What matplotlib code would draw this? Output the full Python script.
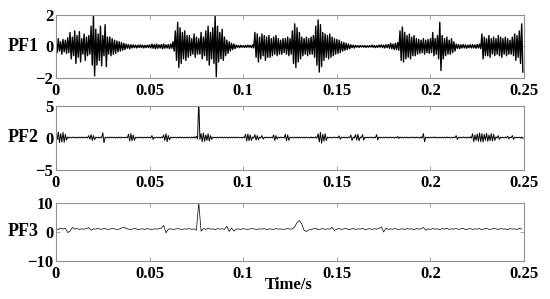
import numpy as np
import matplotlib
matplotlib.use("Agg")
import matplotlib.pyplot as plt

# ─── data (step 0.00125 s, 200 samples each) ──────────────────────────────
DT = 0.00125

# PF1: upper / lower excursion of each sample step
pf1_hi = [
    0.35, 0.5, 0.3, 0.45, 0.4, 0.55, 0.9, 0.6, 1.0, 0.7,
    0.95, 0.5, 0.8, 0.6, 0.7, 1.3, 2.0, 1.1, 0.8, 1.3,
    0.7, 1.4, 0.6, 0.6, 0.5, 0.4, 0.35, 0.3, 0.25, 0.2,
    0.15, 0.12, 0.1, 0.1, 0.08, 0.08, 0.1, 0.08, 0.07, 0.08,
    0.1, 0.15, 0.12, 0.15, 0.1, 0.12, 0.15, 0.1, 0.12, 0.15,
    0.3, 1.0, 1.55, 1.2, 0.9, 1.0, 0.7, 0.7, 0.5, 0.8,
    0.6, 0.5, 0.9, 0.6, 1.0, 1.3, 0.9, 1.2, 2.0, 1.3,
    0.9, 1.1, 0.6, 0.4, 0.3, 0.2, 0.15, 0.08, 0.06, 0.07,
    0.05, 0.06, 0.08, 0.06, 0.1, 0.9, 0.8, 0.6, 0.8, 0.7,
    0.6, 0.7, 0.5, 0.6, 0.7, 0.5, 0.4, 0.5, 0.5, 0.6,
    0.5, 1.0, 1.45, 1.2, 0.9, 0.6, 0.5, 0.6, 0.5, 0.6,
    0.7, 1.3, 1.7, 1.4, 0.9, 0.8, 0.7, 0.8, 0.6, 0.5,
    0.45, 0.4, 0.3, 0.25, 0.2, 0.15, 0.1, 0.08, 0.06, 0.05,
    0.05, 0.06, 0.05, 0.04, 0.05, 0.08, 0.06, 0.05, 0.08, 0.1,
    0.08, 0.1, 0.12, 0.2, 0.15, 0.2, 0.25, 1.0, 1.25, 0.9,
    0.7, 0.8, 0.6, 0.7, 0.5, 0.45, 0.4, 0.5, 0.4, 0.45,
    0.5, 0.9, 0.5, 0.7, 1.55, 0.7, 0.5, 0.6, 0.4, 0.5,
    0.3, 0.15, 0.12, 0.1, 0.12, 0.1, 0.08, 0.1, 0.12, 0.1,
    0.12, 0.15, 0.8, 0.6, 0.5, 0.7, 0.5, 0.6, 0.5, 0.7,
    0.6, 0.5, 0.6, 0.5, 0.4, 0.6, 0.8, 0.7, 1.0, 1.45,
]
pf1_lo = [
    -0.4, -0.3, -0.5, -0.35, -0.45, -0.4, -0.8, -0.6, -1.1, -0.7,
    -1.0, -0.5, -0.9, -0.6, -0.5, -1.2, -1.9, -1.2, -0.9, -1.25,
    -0.6, -1.3, -0.5, -0.6, -0.5, -0.45, -0.35, -0.3, -0.25, -0.2,
    -0.12, -0.15, -0.1, -0.08, -0.1, -0.07, -0.08, -0.1, -0.08, -0.07,
    -0.1, -0.12, -0.15, -0.12, -0.1, -0.15, -0.12, -0.1, -0.15, -0.12,
    -0.3, -0.9, -1.35, -1.1, -0.8, -0.9, -0.7, -0.6, -0.5, -0.7,
    -0.5, -0.5, -0.8, -0.6, -0.9, -1.2, -0.8, -1.1, -1.95, -1.0,
    -0.8, -0.9, -0.6, -0.45, -0.3, -0.2, -0.15, -0.06, -0.08, -0.05,
    -0.07, -0.06, -0.05, -0.08, -0.1, -0.7, -1.0, -0.8, -0.6, -0.9,
    -0.7, -0.7, -0.6, -0.5, -0.6, -0.5, -0.5, -0.4, -0.5, -0.6,
    -0.5, -1.1, -1.35, -1.0, -0.8, -0.6, -0.5, -0.6, -0.5, -0.5,
    -0.7, -1.2, -1.65, -1.3, -0.9, -0.7, -0.8, -0.7, -0.6, -0.5,
    -0.45, -0.4, -0.3, -0.25, -0.2, -0.15, -0.08, -0.1, -0.05, -0.06,
    -0.04, -0.05, -0.06, -0.05, -0.04, -0.06, -0.08, -0.06, -0.05, -0.08,
    -0.1, -0.08, -0.12, -0.15, -0.2, -0.2, -0.25, -0.9, -1.0, -0.8,
    -0.7, -0.8, -0.6, -0.6, -0.5, -0.45, -0.4, -0.5, -0.4, -0.45,
    -0.4, -0.6, -0.5, -0.8, -1.55, -0.8, -0.6, -0.5, -0.5, -0.4,
    -0.3, -0.12, -0.15, -0.1, -0.1, -0.12, -0.08, -0.1, -0.1, -0.12,
    -0.1, -0.15, -0.8, -0.6, -0.6, -0.7, -0.5, -0.6, -0.5, -0.6,
    -0.7, -0.5, -0.6, -0.5, -0.5, -0.6, -0.9, -0.7, -1.1, -1.65,
]

# PF2: mostly flat with short bursts and one tall spike
pf2_hi = [
    0.3, 0.85, 0.6, 0.8, 0.5, 0.08, 0.05, 0.07, 0.06, 0.05,
    0.06, 0.08, 0.05, 0.07, 0.3, 0.45, 0.3, 0.06, 0.05, 0.07,
    0.75, 0.06, 0.05, 0.08, 0.06, 0.05, 0.07, 0.06, 0.08, 0.05,
    0.07, 0.5, 0.6, 0.4, 0.06, 0.05, 0.07, 0.06, 0.05, 0.08,
    0.06, 0.3, 0.05, 0.07, 0.06, 0.08, 0.4, 0.6, 0.3, 0.05,
    0.07, 0.06, 0.05, 0.08, 0.06, 0.05, 0.07, 0.06, 0.08, 0.1,
    0.2, 6.0, 0.6, 0.7, 0.4, 0.6, 0.3, 0.06, 0.05, 0.07,
    0.06, 0.08, 0.05, 0.07, 0.06, 0.05, 0.08, 0.06, 0.07, 0.05,
    0.08, 0.5, 0.55, 0.4, 0.07, 0.45, 0.3, 0.06, 0.3, 0.05,
    0.07, 0.06, 0.05, 0.4, 0.3, 0.06, 0.08, 0.05, 0.5, 0.4,
    0.06, 0.05, 0.07, 0.06, 0.08, 0.05, 0.06, 0.07, 0.05, 0.08,
    0.06, 0.1, 0.6, 0.8, 0.5, 0.6, 0.07, 0.05, 0.06, 0.08,
    0.05, 0.25, 0.06, 0.07, 0.05, 0.08, 0.4, 0.06, 0.45, 0.5,
    0.07, 0.45, 0.06, 0.05, 0.08, 0.06, 0.05, 0.45, 0.07, 0.06,
    0.05, 0.08, 0.06, 0.07, 0.05, 0.06, 0.15, 0.08, 0.05, 0.07,
    0.06, 0.05, 0.08, 0.06, 0.07, 0.05, 0.1, 0.6, 0.06, 0.05,
    0.07, 0.06, 0.08, 0.05, 0.06, 0.07, 0.05, 0.08, 0.06, 0.05,
    0.07, 0.3, 0.06, 0.05, 0.08, 0.06, 0.07, 0.1, 0.6, 0.4,
    0.55, 0.7, 0.6, 0.5, 0.65, 0.4, 0.6, 0.5, 0.1, 0.3,
    0.06, 0.05, 0.08, 0.2, 0.06, 0.3, 0.07, 0.05, 0.06, 0.08,
]
pf2_lo = [
    -0.3, -0.8, -0.7, -0.75, -0.4, -0.06, -0.07, -0.05, -0.08, -0.06,
    -0.05, -0.07, -0.06, -0.08, -0.25, -0.45, -0.35, -0.05, -0.07, -0.06,
    -0.8, -0.05, -0.07, -0.06, -0.05, -0.08, -0.06, -0.07, -0.05, -0.06,
    -0.06, -0.55, -0.5, -0.45, -0.05, -0.07, -0.06, -0.08, -0.06, -0.05,
    -0.07, -0.3, -0.06, -0.05, -0.08, -0.06, -0.45, -0.65, -0.35, -0.06,
    -0.05, -0.07, -0.06, -0.05, -0.08, -0.06, -0.05, -0.07, -0.06, -0.1,
    -0.2, -0.3, -0.65, -0.6, -0.45, -0.55, -0.3, -0.05, -0.07, -0.06,
    -0.05, -0.07, -0.06, -0.08, -0.05, -0.06, -0.07, -0.05, -0.06, -0.08,
    -0.06, -0.55, -0.5, -0.45, -0.06, -0.4, -0.35, -0.05, -0.25, -0.07,
    -0.06, -0.05, -0.07, -0.45, -0.25, -0.05, -0.06, -0.07, -0.5, -0.45,
    -0.05, -0.07, -0.06, -0.08, -0.05, -0.06, -0.07, -0.05, -0.08, -0.06,
    -0.07, -0.1, -0.7, -0.9, -0.55, -0.5, -0.06, -0.07, -0.05, -0.06,
    -0.07, -0.25, -0.05, -0.06, -0.08, -0.05, -0.45, -0.07, -0.4, -0.5,
    -0.06, -0.4, -0.07, -0.06, -0.05, -0.08, -0.06, -0.4, -0.05, -0.07,
    -0.06, -0.05, -0.07, -0.06, -0.08, -0.05, -0.15, -0.06, -0.07, -0.05,
    -0.08, -0.06, -0.05, -0.07, -0.06, -0.08, -0.1, -0.65, -0.05, -0.07,
    -0.06, -0.05, -0.07, -0.08, -0.05, -0.06, -0.07, -0.05, -0.08, -0.06,
    -0.05, -0.3, -0.07, -0.06, -0.05, -0.08, -0.06, -0.1, -0.65, -0.45,
    -0.6, -0.65, -0.7, -0.45, -0.6, -0.5, -0.55, -0.45, -0.1, -0.3,
    -0.05, -0.07, -0.06, -0.2, -0.05, -0.3, -0.06, -0.07, -0.05, -0.06,
]

# PF3: slow wiggly line, spike near 0.076 s and a bump near 0.13 s
pf3 = [
    1.2, 0.9, 1.4, 1.0, 1.3, -0.2, 0.3, 1.6, 1.0, 1.2,
    0.9, 1.1, 1.0, 1.2, 1.5, 0.6, 1.1, 1.0, 1.3, 0.9,
    1.1, 1.2, 0.9, 1.0, 1.2, 1.1, 0.9, 1.0, 1.4, 1.7,
    1.2, 1.0, 0.9, 1.1, 1.2, 0.8, 1.0, 1.1, 0.9, 1.2,
    1.0, 0.9, 1.1, 1.0, 1.2, 1.3, 2.3, -0.3, 1.0, 1.1,
    0.9, 1.0, 1.2, 1.0, 0.9, 1.1, 1.0, 1.2, 0.9, 1.1,
    0.6, 10.2, 0.3, 1.2, 0.9, 1.3, 1.0, 1.1, 0.8, 1.2,
    1.0, 1.1, 0.9, 2.0, 0.2, 1.4, 0.3, 1.0, 1.1, 0.9,
    1.2, 1.0, 0.9, 1.1, 1.2, 1.0, 0.9, 1.1, 1.0, 1.2,
    0.8, 1.1, 1.0, 0.9, 1.2, 1.0, 1.1, 0.9, 1.0, 1.2,
    1.0, 1.1, 1.8, 3.3, 4.0, 2.8, 0.6, 0.2, 0.7, 0.9,
    1.1, 1.3, 0.8, 1.0, 1.2, 0.9, 1.1, 1.0, 1.6, 0.5,
    1.0, 1.2, 0.9, 1.1, 1.3, 0.8, 1.0, 1.2, 0.9, 1.1,
    1.0, 1.3, 0.8, 1.0, 1.2, 0.9, 1.1, 1.0, 1.2, 1.8,
    0.0, 1.3, 0.9, 1.1, 1.0, 1.2, 0.9, 1.0, 1.1, 0.9,
    1.2, 1.0, 1.1, 0.8, 1.2, 1.0, 1.1, 1.6, 0.6, 1.1,
    0.9, 1.2, 1.0, 1.1, 0.8, 1.2, 1.0, 1.3, 0.9, 1.1,
    1.0, 1.2, 0.9, 1.1, 1.3, 0.8, 1.0, 1.2, 0.9, 1.1,
    1.0, 1.2, 0.8, 1.1, 1.3, 0.9, 1.0, 1.2, 1.1, 0.9,
    1.2, 1.0, 1.1, 0.8, 1.2, 1.0, 1.1, 0.9, 1.3, 1.0,
]

xticks = [0, 0.05, 0.1, 0.15, 0.2, 0.25]
xtick_labels = ["0", "0.05", "0.1", "0.15", "0.2", "0.25"]
panels = ["PF1", "PF2", "PF3"]
ylims = [2, 5, 10]
# ──────────────────────────────────────────────────────────────────────────


def interleave(hi, lo):
    # upper excursions on the step, lower ones half a step later
    n = min(len(hi), len(lo))
    t = np.empty(2 * n)
    y = np.empty(2 * n)
    t[0::2] = np.arange(n) * DT
    t[1::2] = np.arange(n) * DT + DT / 2
    y[0::2] = hi[:n]
    y[1::2] = lo[:n]
    return t, y


plt.rcParams["font.family"] = ["Liberation Serif", "DejaVu Serif"]
plt.rcParams["font.weight"] = "bold"
plt.rcParams["axes.unicode_minus"] = True

fig = plt.figure(figsize=(5.5, 2.99), dpi=100)
boxes = [
    [0.1018, 0.7408, 0.851, 0.208],
    [0.1018, 0.4331, 0.851, 0.214],
    [0.1018, 0.1281, 0.851, 0.192],
]
widths = [1.0, 0.7, 0.5]

t1, y1 = interleave(pf1_hi, pf1_lo)
t2, y2 = interleave(pf2_hi, pf2_lo)
t3 = np.arange(len(pf3)) * DT
series = [(t1, y1), (t2, y2), (t3, np.array(pf3))]

for box, name, lim, lw, (t, y) in zip(boxes, panels, ylims, widths, series):
    ax = fig.add_axes(box)
    ax.plot(t, y, color="black", lw=lw)
    ax.set_xlim(0, 0.25)
    ax.set_ylim(-lim, lim)
    ax.set_xticks(xticks)
    ax.set_xticklabels(xtick_labels)
    ax.set_yticks([-lim, 0, lim])
    ax.tick_params(direction="in", top=True, right=True, length=3,
                   width=0.6, color="#909090", labelsize=12)
    ax.tick_params(axis="x", pad=4)
    ax.tick_params(axis="y", pad=2)
    for s in ax.spines.values():
        s.set_color("#909090")
        s.set_linewidth(0.8)
    fig.text(0.014, box[1] + box[3] / 2, name, fontsize=13,
             fontweight="bold", va="center", ha="left")

fig.text(0.525, 0.048, "Time/s", fontsize=12, fontweight="bold",
         ha="center", va="center")

fig.savefig("out.png", dpi=100)
